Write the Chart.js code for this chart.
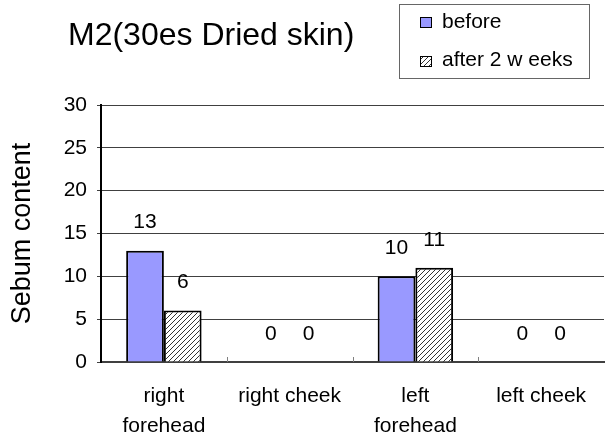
<!DOCTYPE html>
<html>
<head>
<meta charset="utf-8">
<script src="https://cdn.jsdelivr.net/npm/chart.js@4"></script>
<style>
  html, body { margin: 0; padding: 0; background: #fff; }
  #wrap { width: 606px; height: 439px; }
</style>
</head>
<body>
<div id="wrap"><canvas id="myChart" width="606" height="439"></canvas></div>
<script>
// Chart data
const categories = [["right", "forehead"], "right cheek", ["left", "forehead"], "left cheek"];
const beforeValues = [13, 0, 10, 0];
const afterValues = [6, 0, 11, 0];
const seriesNames = ["before", "after 2 w eeks"];
const yTicks = [0, 5, 10, 15, 20, 25, 30];

const FONT = "Arial, 'Liberation Sans', sans-serif";

// Diagonal hatch pattern for the second series
function makeHatch() {
    const c = document.createElement("canvas");
    c.width = 5;
    c.height = 5;
    const g = c.getContext("2d");
    g.fillStyle = "#fff";
    g.fillRect(0, 0, 5, 5);
    g.strokeStyle = "#333";
    g.lineWidth = 1;
    g.beginPath();
    g.moveTo(0, 5); g.lineTo(5, 0);
    g.moveTo(-1, 1); g.lineTo(1, -1);
    g.moveTo(4, 6); g.lineTo(6, 4);
    g.stroke();
    return g.createPattern(c, "repeat");
}

const ctx = document.getElementById("myChart").getContext("2d");
const hatch = makeHatch();

// Labels above the bars, title, legend box and inner x ticks
const extrasPlugin = {
    id: "extras",
    afterDatasetsDraw(chart) {
        const c = chart.ctx;
        c.save();
        c.fillStyle = "#000";
        c.font = "21px " + FONT;
        c.textAlign = "center";
        c.textBaseline = "middle";
        chart.data.datasets.forEach((ds, i) => {
            chart.getDatasetMeta(i).data.forEach((bar, j) => {
                c.fillText(String(ds.data[j]), bar.x, bar.y - 28);
            });
        });

        // short ticks between categories, pointing up
        const xs = chart.scales.x;
        const area = chart.chartArea;
        c.strokeStyle = "#808080";
        c.lineWidth = 1;
        for (let i = 1; i < categories.length; i++) {
            const x = Math.round((xs.getPixelForTick(i - 1) + xs.getPixelForTick(i)) / 2) + 0.5;
            c.beginPath();
            c.moveTo(x, area.bottom);
            c.lineTo(x, area.bottom - 5);
            c.stroke();
        }

        // title
        c.textAlign = "left";
        c.textBaseline = "alphabetic";
        c.font = "32px " + FONT;
        c.fillText("M2(30es Dried skin)", 68, 45);

        // legend
        c.strokeStyle = "#666";
        c.lineWidth = 1;
        c.strokeRect(399.5, 4.5, 190, 74);
        c.fillStyle = "#9999FF";
        c.fillRect(420, 17, 12, 11);
        c.strokeStyle = "#000";
        c.strokeRect(420.5, 17.5, 11, 10);
        c.fillStyle = hatch;
        c.fillRect(420, 56, 12, 11);
        c.strokeRect(420.5, 56.5, 11, 10);
        c.fillStyle = "#000";
        c.font = "21px " + FONT;
        c.fillText(seriesNames[0], 442, 28);
        c.fillText(seriesNames[1], 442, 66);
        c.restore();
    }
};

new Chart(ctx, {
    type: "bar",
    data: {
        labels: categories,
        datasets: [
            {
                label: seriesNames[0],
                data: beforeValues,
                backgroundColor: "#9999FF",
                borderColor: "#000",
                borderWidth: 2,
                borderSkipped: "bottom",
            },
            {
                label: seriesNames[1],
                data: afterValues,
                backgroundColor: hatch,
                borderColor: "#000",
                borderWidth: 2,
                borderSkipped: "bottom",
            },
        ],
    },
    options: {
        responsive: false,
        animation: false,
        layout: { padding: { top: 105, right: 2, left: 0, bottom: 0 } },
        plugins: {
            legend: { display: false },
            tooltip: { enabled: false },
        },
        datasets: {
            bar: { categoryPercentage: 0.6, barPercentage: 1.0 },
        },
        scales: {
            x: {
                grid: { display: false },
                border: { color: "#404040", width: 2 },
                ticks: {
                    color: "#000",
                    font: { family: FONT, size: 21, lineHeight: 1.4 },
                    padding: 12,
                    maxRotation: 0,
                    autoSkip: false,
                },
                afterFit(scale) { scale.height = 77; },
            },
            y: {
                min: 0,
                max: 30,
                afterBuildTicks(scale) {
                    scale.ticks = yTicks.map(v => ({ value: v }));
                },
                grid: {
                    color: "#404040",
                    lineWidth: 1,
                    tickLength: 4,
                },
                border: { color: "#000", width: 2 },
                ticks: {
                    color: "#000",
                    font: { family: FONT, size: 21 },
                    padding: 10,
                },
                title: {
                    display: true,
                    text: "Sebum content",
                    color: "#000",
                    font: { family: FONT, size: 27 },
                    padding: { top: 6, bottom: 0 },
                },
                afterFit(scale) { scale.width = 101; },
            },
        },
    },
    plugins: [extrasPlugin],
});
</script>
</body>
</html>
